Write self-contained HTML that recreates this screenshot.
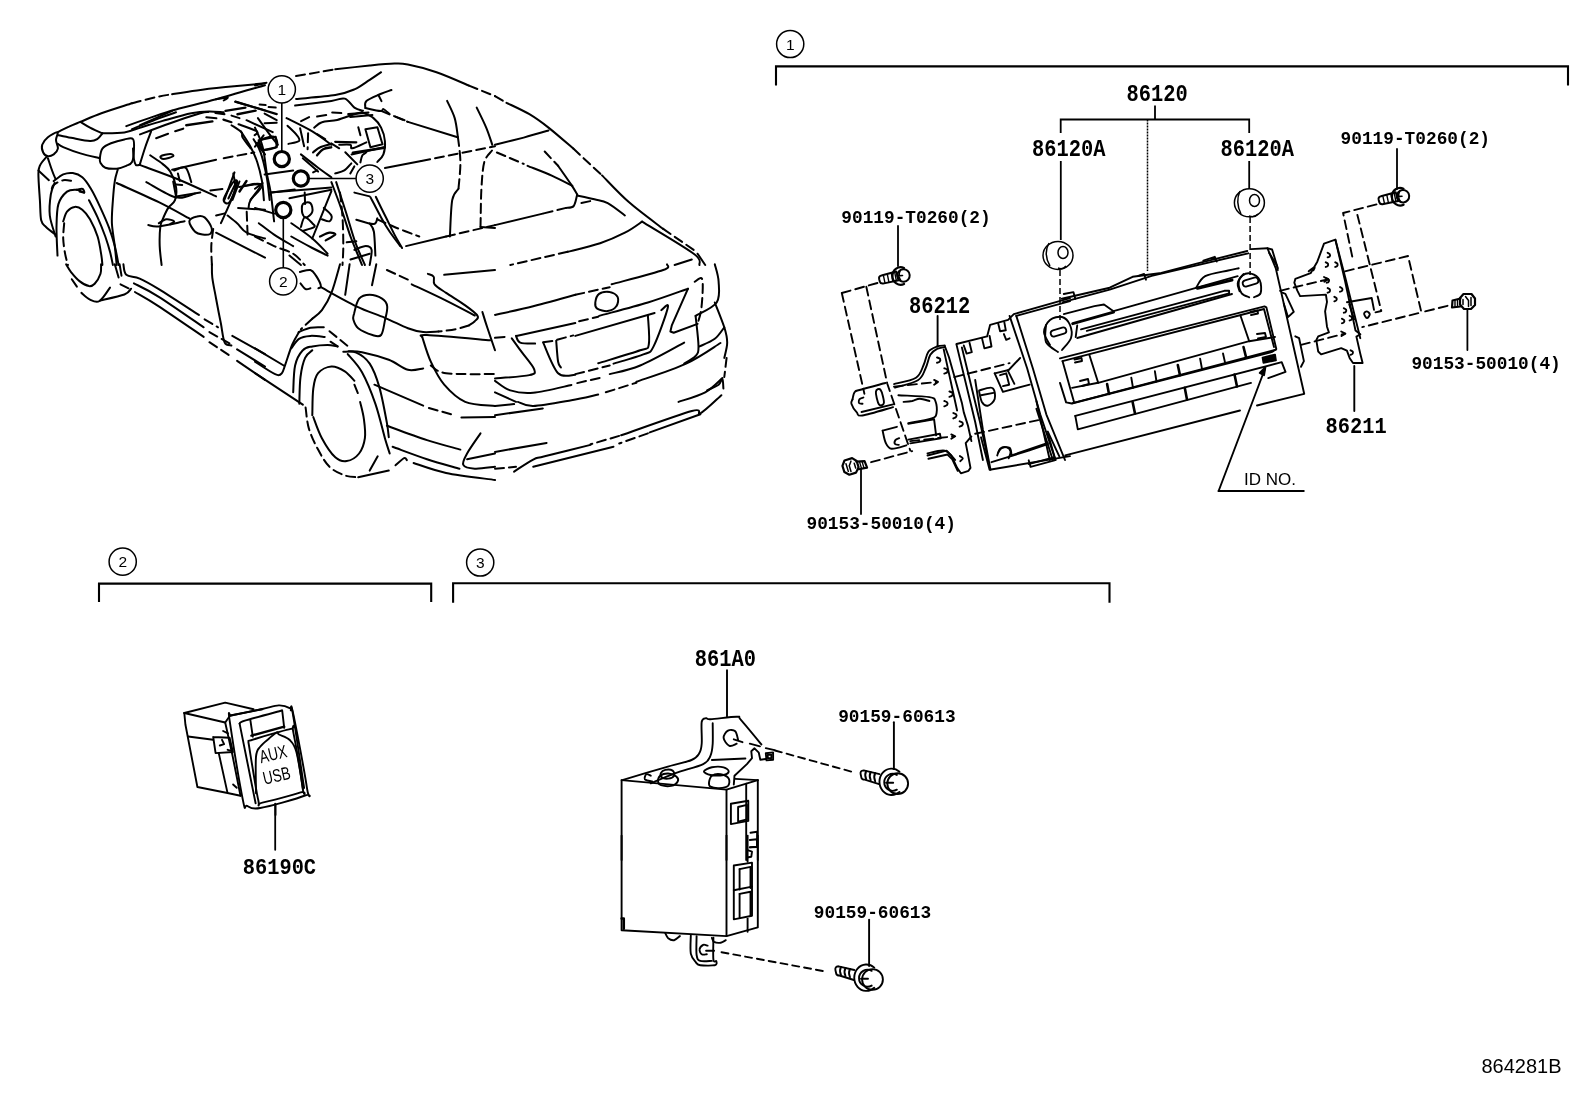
<!DOCTYPE html>
<html><head><meta charset="utf-8"><style>
html,body{margin:0;padding:0;background:#fff;width:1592px;height:1099px;overflow:hidden}
svg{display:block;will-change:transform}
.t{font-family:"Liberation Mono",monospace;font-weight:bold;fill:#000}
.s{font-family:"Liberation Sans",sans-serif;fill:#000}
</style></head><body>
<svg width="1592" height="1099" viewBox="0 0 1592 1099">
<rect width="1592" height="1099" fill="#fff"/>
<g id="frame" fill="none" stroke="#000" stroke-width="2.1">
<path d="M776,85.5 V66.4 H1568 V85.5"/>
<path d="M99,602 V583.6 H431.2 V602"/>
<path d="M453.1,602.7 V583.3 H1109.5 V602.7"/>
<g stroke-width="1.5">
<circle cx="790.2" cy="44" r="13.6"/>
<circle cx="122.7" cy="561.7" r="13.6"/>
<circle cx="480.2" cy="562.5" r="13.6"/>
</g>
</g>
<g class="s" font-size="15.5" text-anchor="middle">
<text x="790.2" y="49.5">1</text>
<text x="122.7" y="567.2">2</text>
<text x="480.2" y="568">3</text>
</g>
<g fill="none" stroke="#000">
<circle cx="281.8" cy="89.4" r="13.6" stroke-width="1.5"/>
<circle cx="369.7" cy="178.6" r="13.6" stroke-width="1.5"/>
<circle cx="283.2" cy="281.4" r="13.6" stroke-width="1.5"/>
<circle cx="281.8" cy="159.1" r="7.6" stroke-width="3.2"/>
<circle cx="300.9" cy="178.5" r="7.6" stroke-width="3.2"/>
<circle cx="283.3" cy="210" r="7.6" stroke-width="3.2"/>
<path d="M281.8,103 V151.5 M308.5,178.5 H356 M283.3,218 V267.8" stroke-width="1.6"/>
</g>
<g class="s" font-size="15.5" text-anchor="middle">
<text x="281.8" y="95">1</text>
<text x="369.7" y="184.1">3</text>
<text x="283.2" y="286.9">2</text>
</g>
<g fill="none" stroke="#000" stroke-width="1.5">
<path d="M1147.5,119.5 V271" stroke-dasharray="2,1"/>
<path d="M1155,105.5 V119.5 M1060.7,133 V119.5 H1249.2 V133 M1249.2,161 V189" stroke-width="1.8"/>
<path d="M1250.1,217 V275" stroke-dasharray="6,3"/>
<path d="M1060,270 V320" stroke-dasharray="6,3"/>
<path d="M1060.8,161 V240" stroke-width="1.8"/>
<ellipse cx="1058" cy="255.4" rx="15" ry="14"/>
<ellipse cx="1063" cy="252.5" rx="5" ry="6"/><path d="M1049,243 Q1043,254 1050,266 M1058,268 Q1063,270 1066,266"/>
<ellipse cx="1249.4" cy="202.8" rx="15" ry="14"/>
<ellipse cx="1254.5" cy="200.5" rx="5" ry="6"/><path d="M1240,191 Q1235,202 1241,214 M1249,216 Q1255,218 1258,214"/>
</g>
<g id="labels">
<g class="t" font-size="20.4">
<text transform="translate(1126.5,101) scale(1,1.2)">86120</text>
<text transform="translate(1032,155.5) scale(1,1.2)">86120A</text>
<text transform="translate(1220.6,156) scale(1,1.2)">86120A</text>
<text transform="translate(909,312.5) scale(1,1.2)">86212</text>
<text transform="translate(1325.5,433) scale(1,1.12)">86211</text>
<text transform="translate(242.7,874) scale(1,1.12)">86190C</text>
<text transform="translate(694.8,666.3) scale(1,1.16)">861A0</text>
</g>
<g class="t" font-size="17.8">
<text x="1340.6" y="144">90119-T0260(2)</text>
<text x="841.3" y="223">90119-T0260(2)</text>
<text x="806.5" y="528.5">90153-50010(4)</text>
<text x="1411.4" y="369">90153-50010(4)</text>
<text x="838.2" y="721.5">90159-60613</text>
<text x="813.8" y="917.5">90159-60613</text>
</g>
<text class="s" x="1244" y="484.5" font-size="17">ID NO.</text>
<text class="s" x="1481.5" y="1072.5" font-size="20">864281B</text>
</g>
<g id="car" fill="none" stroke="#000" stroke-width="2" stroke-linecap="round" stroke-linejoin="round">
<path d="M57.5,132.4 C59.4,131.4 65.1,128.4 69.0,126.7 C72.8,124.9 75.0,124.1 80.4,121.9 C85.8,119.7 92.8,116.4 101.4,113.3 C110.0,110.2 126.9,105.0 132.0,103.3"/>
<path d="M132.0,103.3 C135.8,102.4 148.3,99.0 154.9,97.4 C161.6,95.9 169.3,94.7 172.1,94.2" stroke-dasharray="9,5"/>
<path d="M172.1,94.2 C176.3,93.5 188.1,91.5 197.0,90.4 C205.9,89.2 214.3,88.3 225.6,87.1 C237.0,85.9 258.5,83.9 265.0,83.3"/>
<path d="M80.4,121.9 C82.0,122.8 86.3,125.7 90.0,127.6 C93.6,129.5 100.3,132.4 102.4,133.3"/>
<path d="M58.4,135.3 C60.8,135.7 67.5,137.2 72.8,138.1 C78.0,139.1 85.9,140.8 90.0,141.0 C94.0,141.2 95.2,140.4 97.2,139.1 C99.3,137.8 101.5,134.3 102.4,133.3"/>
<path d="M126.3,126.1 C130.1,124.7 140.9,120.8 149.2,118.1 C157.5,115.3 164.8,112.6 176.0,109.5 C187.1,106.3 201.3,103.4 216.1,99.3 C230.9,95.3 256.9,87.5 265.0,85.2"/>
<path d="M132.0,129.1 C136.5,127.4 151.4,121.2 158.8,118.4 C166.1,115.6 173.1,113.3 176.0,112.3"/>
<path d="M216.1,99.3 C218.0,99.0 226.3,97.2 227.6,97.4 C228.8,97.6 224.4,100.0 223.7,100.5"/>
<path d="M102.4,133.3 C106.1,133.2 117.8,133.4 124.4,132.4 C130.9,131.4 135.2,129.1 141.6,127.2 C147.9,125.3 154.3,123.3 162.6,120.9 C170.9,118.6 183.6,114.9 191.3,113.3 C198.9,111.7 203.0,111.5 208.5,111.4 C213.9,111.2 221.2,112.2 223.7,112.3"/>
<path d="M57.5,132.4 C56.1,131.9 50.5,135.1 47.9,137.2 C45.4,139.2 43.0,142.3 42.2,144.8 C41.4,147.4 42.2,150.5 43.2,152.5 C44.1,154.4 46.2,156.0 47.9,156.3 C49.7,156.6 52.0,155.6 53.7,154.4 C55.3,153.1 57.5,151.0 57.9,148.6 C58.3,146.2 56.0,142.7 56.0,140.0 C55.9,137.3 58.8,132.9 57.5,132.4 Z"/>
<path d="M57.9,143.9 C58.8,144.4 59.5,145.5 63.2,147.1 C67.0,148.7 74.4,151.6 80.4,153.4 C86.5,155.3 96.3,157.4 99.5,158.2"/>
<path d="M99.9,158.2 C100.2,155.8 100.5,151.1 102.4,148.6 C104.2,146.2 107.3,144.8 111.0,143.3 C114.7,141.8 120.7,140.2 124.4,139.5 C128.0,138.8 131.4,137.2 133.0,139.1 C134.6,140.9 134.1,146.7 133.9,150.5 C133.8,154.4 133.3,159.5 132.0,162.0 C130.7,164.6 128.8,164.7 126.3,165.8 C123.7,166.9 120.2,168.4 116.7,168.7 C113.2,169.0 108.0,168.7 105.3,167.7 C102.6,166.8 101.4,164.6 100.5,163.0 C99.6,161.4 99.6,160.6 99.9,158.2 Z"/>
<path d="M133.0,148.6 C133.1,150.4 133.4,156.4 133.9,159.1 C134.4,161.9 134.9,163.9 135.8,164.9 C136.8,165.8 139.0,164.9 139.7,164.9"/>
<path d="M139.7,164.9 C140.6,161.9 143.5,152.3 145.4,146.7 C147.3,141.2 150.2,134.0 151.1,131.4"/>
<path d="M139.7,164.9 C146.0,167.3 165.1,174.0 177.9,179.2 C190.6,184.5 209.7,193.5 216.1,196.4"/>
<path d="M116.7,183.0 C123.7,186.2 146.7,196.3 158.8,202.1 C170.9,208.0 184.2,215.7 189.3,218.4"/>
<path d="M117.7,169.7 C117.2,171.6 115.6,176.0 114.8,181.1 C114.0,186.2 113.4,193.2 112.9,200.2 C112.4,207.2 111.6,215.5 111.9,223.2 C112.3,230.8 114.0,239.1 114.8,246.1 C115.6,253.1 116.4,261.9 116.7,265.0"/>
<path d="M47.0,156.3 C45.9,157.7 41.7,162.0 40.3,164.9 C38.9,167.7 38.4,167.6 38.4,173.5 C38.3,179.4 39.4,192.4 39.9,200.2 C40.4,208.0 40.2,215.8 41.2,220.3 C42.3,224.8 43.6,224.6 46.0,227.0 C48.4,229.4 54.0,233.4 55.6,234.6"/>
<path d="M47.9,158.2 C48.6,160.1 50.5,166.2 51.8,169.7 C53.0,173.2 54.9,177.6 55.6,179.2"/>
<path d="M38.4,170.6 L48.9,180.2"/>
<path d="M53.7,181.1 C55.3,180.0 60.0,175.8 63.2,174.4 C66.4,173.1 69.6,172.6 72.8,173.1 C76.0,173.6 79.3,174.7 82.3,177.3 C85.4,179.9 87.9,183.7 90.9,188.8 C94.0,193.9 97.5,201.3 100.5,207.9 C103.5,214.4 106.7,221.6 109.1,227.9 C111.5,234.3 113.2,239.9 114.8,246.1 C116.4,252.3 118.0,261.9 118.6,265.0"/>
<path d="M51.8,188.8 C52.1,188.1 51.8,186.4 53.7,184.9 C55.6,183.5 60.0,180.8 63.2,180.2 C66.4,179.5 71.2,181.0 72.8,181.1" stroke-dasharray="9,5"/>
<path d="M55.6,236.5 C54.6,233.0 50.6,222.5 49.8,215.5 C49.0,208.5 50.0,199.9 50.8,194.5 C51.6,189.1 54.0,184.9 54.6,183.0"/>
<path d="M57.5,255.6 C57.3,250.9 56.4,235.6 56.5,227.0 C56.7,218.4 56.7,209.9 58.4,204.1 C60.2,198.2 64.0,194.0 67.0,191.6 C70.1,189.2 73.7,189.6 76.6,189.7 C79.5,189.9 83.0,192.1 84.2,192.6"/>
<path d="M76.6,189.7 C77.6,189.6 81.1,188.3 82.3,188.8 C83.6,189.2 84.7,192.1 84.2,192.6 C83.8,193.1 80.3,191.8 79.5,191.6"/>
<path d="M63.2,221.3 C63.9,219.7 65.1,214.1 67.0,211.7 C69.0,209.3 72.1,207.2 74.7,206.9 C77.2,206.6 79.8,207.7 82.3,209.8 C84.9,211.9 87.4,214.9 90.0,219.3 C92.5,223.8 95.7,230.5 97.6,236.5 C99.5,242.6 100.6,250.9 101.4,255.6 C102.2,260.4 102.2,263.5 102.4,265.0"/>
<path d="M64.2,223.2 C64.0,225.7 63.1,233.4 63.2,238.5 C63.4,243.5 64.3,249.3 65.1,253.7 C65.9,258.2 67.5,263.1 68.0,265.0" stroke-dasharray="9,5"/>
<path d="M89.0,200.2 C90.5,203.1 94.9,211.4 97.6,217.4 C100.3,223.5 103.2,230.8 105.3,236.5 C107.3,242.3 108.8,247.1 110.0,251.8 C111.3,256.6 112.4,262.8 112.9,265.0"/>
<path d="M150.2,155.3 C152.2,156.8 159.2,161.2 162.6,163.9 C165.9,166.6 168.0,167.7 170.2,171.6 C172.5,175.4 175.2,182.1 176.0,186.9 C176.8,191.6 176.3,196.7 175.0,200.2 C173.7,203.7 170.2,205.0 168.3,207.9 C166.4,210.7 164.9,214.2 163.5,217.4 C162.2,220.6 160.9,222.2 160.3,227.0 C159.7,231.8 159.5,239.8 159.7,246.1 C159.9,252.4 161.3,261.9 161.6,265.0"/>
<path d="M146.3,182.1 C151.3,184.6 167.8,195.5 176.0,197.4 C184.1,199.3 191.9,194.2 195.1,193.5"/>
<path d="M148.3,225.1 C150.0,225.3 152.7,227.0 158.8,226.4 C164.8,225.8 180.3,222.1 184.6,221.3"/>
<path d="M189.3,221.3 C189.7,218.7 194.4,217.1 197.0,216.5 C199.5,215.8 202.2,215.7 204.6,217.4 C207.0,219.2 210.4,224.3 211.3,227.0 C212.3,229.7 211.8,232.4 210.4,233.7 C208.9,234.9 205.3,234.9 202.7,234.6 C200.2,234.3 197.3,234.0 195.1,231.8 C192.8,229.5 189.0,223.8 189.3,221.3 Z"/>
<path d="M158.8,223.2 C160.0,222.5 163.9,219.7 166.4,219.3 C169.0,219.0 173.4,220.5 174.1,221.3 C174.7,222.0 170.9,223.6 170.2,224.1"/>
<path d="M172.1,169.7 L216.1,159.7"/>
<path d="M223.7,158.2 L254.3,152.5" stroke-dasharray="9,5"/>
<path d="M174.1,170.6 C176.0,170.1 182.7,165.8 185.5,167.7 C188.4,169.7 190.3,179.7 191.3,182.1"/>
<path d="M177.9,173.5 L179.8,181.1"/>
<path d="M160.7,156.3 C161.8,155.4 168.2,154.0 170.2,154.0 C172.3,154.0 174.2,155.4 173.1,156.3 C172.0,157.1 165.6,159.1 163.5,159.1 C161.5,159.1 159.6,157.1 160.7,156.3 Z"/>
<path d="M216.1,215.5 L227.6,212.7" stroke-dasharray="9,5"/>
<path d="M220.9,223.2 C222.3,220.0 227.1,209.8 229.5,204.1 C231.9,198.3 234.6,193.9 235.2,188.8 C235.8,183.7 233.6,176.0 233.3,173.5"/>
<path d="M223.7,199.3 C224.4,195.9 231.1,184.8 233.3,182.1 C235.5,179.4 237.8,179.7 237.1,183.0 C236.5,186.4 231.7,199.4 229.5,202.1 C227.2,204.9 223.1,202.6 223.7,199.3 Z"/>
<path d="M239.0,186.9 C242.8,186.5 260.0,182.7 262.0,184.9 C263.9,187.2 252.7,196.4 250.5,200.2 C248.3,204.1 248.9,206.6 248.6,207.9"/>
<path d="M227.6,215.5 C229.2,216.8 233.9,220.3 237.1,223.2 C240.3,226.0 242.0,230.2 246.7,232.7 C251.3,235.3 262.0,237.5 265.0,238.5"/>
<path d="M238.1,207.9 L265.0,209.8"/>
<path d="M216.1,232.7 L265.0,257.6"/>
<path d="M213.2,228.9 C212.9,231.8 211.5,240.1 211.3,246.1 C211.1,252.1 211.8,261.9 211.9,265.0" stroke-dasharray="9,5"/>
<path d="M240.9,131.4 C242.5,134.0 247.8,141.6 250.5,146.7 C253.2,151.8 255.3,156.3 257.2,162.0 C259.1,167.7 260.8,174.8 262.0,181.1 C263.1,187.5 263.6,197.0 263.9,200.2"/>
<path d="M235.2,101.8 L265.0,110.4"/>
<path d="M256.2,142.9 L265.0,154.4"/>
<path d="M246.7,211.7 L247.6,234.6" stroke-dasharray="9,5"/>
<path d="M255.0,85.6 L266.5,82.7"/>
<path d="M296.1,76.0 L335.3,69.3" stroke-dasharray="9,5"/>
<path d="M335.3,69.3 C341.0,68.7 359.8,66.5 369.7,65.5 C379.5,64.6 388.1,63.8 394.5,63.6 C400.9,63.4 400.9,63.1 407.9,64.6 C414.9,66.0 426.3,68.7 436.5,72.2 C446.7,75.7 463.6,83.3 469.0,85.6"/>
<path d="M469.0,85.6 L495.0,96.1" stroke-dasharray="9,5"/>
<path d="M296.1,99.0 C302.6,98.3 325.5,96.7 335.3,95.1 C345.0,93.5 348.6,91.9 354.4,89.4 C360.1,86.8 365.2,82.7 369.7,79.8 C374.1,77.0 379.2,73.5 381.1,72.2"/>
<path d="M295.1,105.6 C301.2,104.8 323.2,102.0 331.4,100.9 C339.7,99.7 341.0,97.5 344.8,98.6 C348.6,99.7 351.3,105.5 354.4,107.6 C357.4,109.6 361.5,110.3 363.0,110.8"/>
<path d="M314.2,127.6 C315.5,126.7 318.1,123.5 321.9,122.3 C325.7,121.0 331.8,121.3 337.2,120.0 C342.6,118.6 350.2,115.5 354.4,114.2 C358.5,113.0 360.7,112.6 362.0,112.3"/>
<path d="M362.0,112.3 C363.9,113.3 370.3,115.5 373.5,118.1 C376.7,120.6 379.2,123.8 381.1,127.6 C383.0,131.4 384.6,136.5 384.9,141.0 C385.3,145.5 384.7,150.9 383.4,154.4 C382.1,157.9 378.3,160.7 377.3,162.0"/>
<path d="M351.5,154.4 L384.9,147.1"/>
<path d="M381.1,110.8 L407.9,121.9" stroke-dasharray="9,5"/>
<path d="M407.9,121.9 L457.6,137.2"/>
<path d="M447.1,100.9 C448.3,103.7 452.9,112.0 454.7,118.1 C456.5,124.1 457.4,134.0 457.9,137.2"/>
<path d="M457.9,137.2 C458.4,141.3 460.3,153.4 460.4,162.0 C460.5,170.6 458.8,184.3 458.5,188.8" stroke-dasharray="9,5"/>
<path d="M458.5,188.8 C457.5,190.7 453.6,192.3 452.2,200.2 C450.8,208.2 450.3,230.5 449.9,236.5"/>
<path d="M476.7,107.6 C478.3,110.9 483.6,121.4 486.2,127.6 C488.8,133.8 491.3,141.9 492.3,144.8"/>
<path d="M384.9,168.1 L421.3,161.1"/>
<path d="M421.3,161.1 L495.0,146.3" stroke-dasharray="9,5"/>
<path d="M406.0,246.1 L446.1,236.5"/>
<path d="M446.1,236.5 L495.0,225.1" stroke-dasharray="9,5"/>
<path d="M492.0,150.5 C490.7,152.5 486.1,155.6 484.3,162.0 C482.6,168.4 482.1,177.9 481.4,188.8 C480.8,199.6 480.7,220.6 480.5,227.0" stroke-dasharray="9,5"/>
<path d="M480.5,227.0 L495.0,227.9"/>
<path d="M370.6,197.4 C372.4,200.7 377.9,211.7 381.1,217.4 C384.3,223.2 386.5,227.0 389.7,231.8 C392.9,236.5 398.5,243.7 400.2,246.1"/>
<path d="M375.8,196.8 C377.6,200.6 383.7,213.0 386.9,219.3 C390.0,225.6 392.0,229.9 394.5,234.6 C397.0,239.4 400.9,245.8 402.1,248.0"/>
<path d="M377.3,219.3 C380.2,220.6 387.5,224.1 394.5,227.0 C401.5,229.9 415.2,234.9 419.3,236.5" stroke-dasharray="9,5"/>
<path d="M356.3,219.7 C359.1,220.5 370.0,224.3 373.5,224.1 C377.0,223.9 376.7,219.3 377.3,218.4"/>
<path d="M369.7,223.5 C370.4,224.9 372.9,226.4 373.9,231.8 C374.8,237.1 375.1,251.7 375.4,255.6"/>
<path d="M331.4,182.1 C333.0,186.4 337.8,198.8 341.0,207.9 C344.2,217.0 347.7,228.6 350.5,236.5 C353.4,244.5 356.3,250.9 358.2,255.6 C360.1,260.4 361.4,263.5 362.0,265.0"/>
<path d="M336.2,182.1 C337.8,187.0 342.6,201.7 345.8,211.7 C349.0,221.7 352.1,233.4 355.3,242.3 C358.5,251.2 363.3,261.2 364.9,265.0"/>
<path d="M340.0,192.6 C340.5,196.7 342.0,208.5 342.5,217.4 C343.1,226.3 343.3,238.2 343.3,246.1 C343.3,254.0 342.6,261.9 342.5,265.0" stroke-dasharray="9,5"/>
<path d="M264.6,174.4 L293.2,170.6"/>
<path d="M270.3,192.6 L331.4,187.4"/>
<path d="M289.4,198.3 L331.4,189.7"/>
<path d="M255.0,127.6 C256.3,130.8 260.7,139.1 262.6,146.7 C264.6,154.4 265.5,165.8 266.8,173.5 C268.2,181.1 269.5,184.6 270.7,192.6 C271.9,200.6 273.5,216.5 274.1,221.3"/>
<path d="M257.9,118.1 C259.9,120.9 266.9,130.8 270.3,135.3 C273.6,139.7 276.7,143.2 277.9,144.8"/>
<path d="M259.8,141.0 C261.7,138.9 271.3,135.8 274.1,136.8 C276.9,137.7 278.3,144.6 276.4,146.7 C274.5,148.9 265.4,150.5 262.6,149.6 C259.9,148.6 257.9,143.1 259.8,141.0 Z"/>
<path d="M286.5,118.1 C290.8,120.3 304.8,127.0 312.3,131.4 C319.8,135.9 328.3,142.6 331.4,144.8"/>
<path d="M287.5,125.7 C289.1,127.3 295.1,132.7 297.0,135.3 C299.0,137.8 300.4,139.6 299.0,141.0 C297.5,142.4 290.2,143.4 288.4,143.9"/>
<path d="M300.9,154.4 C303.7,156.6 313.0,163.9 318.1,167.7 C323.2,171.6 329.2,175.7 331.4,177.3"/>
<path d="M302.8,158.2 L318.1,171.6"/>
<path d="M312.3,238.5 L331.4,191.1"/>
<path d="M302.8,204.1 C304.1,202.3 308.8,201.8 310.4,203.1 C312.0,204.4 313.0,209.3 312.3,211.7 C311.7,214.1 308.3,217.1 306.6,217.4 C304.9,217.7 303.0,215.8 302.4,213.6 C301.8,211.4 301.4,205.8 302.8,204.1 Z"/>
<path d="M304.7,192.6 L305.1,204.1"/>
<path d="M300.9,227.0 C301.5,225.4 302.8,218.1 304.7,217.4 C306.6,216.8 310.7,221.6 312.3,223.2 C313.9,224.8 315.8,225.7 314.2,227.0 C312.6,228.3 304.7,230.2 302.8,230.8"/>
<path d="M291.3,223.2 C294.8,225.7 306.3,233.4 312.3,238.5 C318.4,243.5 325.1,251.2 327.6,253.7"/>
<path d="M291.3,236.5 C294.8,238.5 306.3,244.8 312.3,248.0 C318.4,251.2 325.1,254.4 327.6,255.6"/>
<path d="M320.0,236.5 C321.6,235.9 327.0,233.0 329.5,232.7 C332.1,232.4 335.9,233.4 335.3,234.6 C334.6,235.9 327.3,239.4 325.7,240.4" stroke-width="2.2"/>
<path d="M323.8,207.9 C325.1,209.1 330.5,213.3 331.4,215.5 C332.4,217.7 331.1,220.6 329.5,221.3 C327.9,221.9 323.2,219.7 321.9,219.3"/>
<path d="M255.0,146.7 L263.6,135.3"/>
<path d="M255.0,188.8 L262.6,183.0"/>
<path d="M255.0,207.9 L274.1,213.6"/>
<path d="M258.8,223.2 C261.4,225.1 268.4,230.8 274.1,234.6 C279.8,238.5 290.0,244.2 293.2,246.1"/>
<path d="M255.0,236.5 C258.2,238.1 267.7,243.2 274.1,246.1 C280.5,249.0 288.1,250.6 293.2,253.7 C298.3,256.9 302.8,263.1 304.7,265.0" stroke-dasharray="9,5"/>
<path d="M289.4,255.6 L300.9,265.0"/>
<path d="M354.4,249.9 C356.3,249.3 363.0,246.1 365.8,246.1 C368.7,246.1 370.9,246.8 371.6,249.9 C372.2,253.1 370.0,262.5 369.7,265.0"/>
<path d="M346.7,242.3 L356.3,241.3"/>
<path d="M369.7,196.4 L354.4,192.6"/>
<path d="M350.5,259.5 L369.7,253.7"/>
<path d="M495.0,96.1 L506.5,102.8" stroke-dasharray="9,5"/>
<path d="M506.5,102.8 C510.3,104.7 522.4,110.1 529.4,114.2 C536.4,118.4 541.2,121.9 548.5,127.6 C555.8,133.3 569.2,145.1 573.3,148.6"/>
<path d="M573.3,148.6 L602.0,175.4" stroke-dasharray="9,5"/>
<path d="M602.0,175.4 C606.5,179.8 618.6,193.2 628.8,202.1 C639.0,211.1 657.4,224.4 663.2,228.9"/>
<path d="M663.2,228.9 L693.7,249.9" stroke-dasharray="9,5"/>
<path d="M495.0,144.8 C499.8,143.6 514.7,139.9 523.7,137.6 C532.6,135.2 544.4,131.7 548.5,130.5"/>
<path d="M496.9,152.5 L523.7,163.9" stroke-dasharray="9,5"/>
<path d="M527.5,165.8 C531.6,167.5 544.8,172.4 552.3,175.8 C559.8,179.1 569.0,184.2 572.4,185.9"/>
<path d="M544.7,151.5 L558.1,165.8" stroke-dasharray="9,5"/>
<path d="M558.1,165.8 C560.3,169.0 568.3,180.2 571.4,184.9 C574.6,189.7 576.2,192.9 577.2,194.5"/>
<path d="M577.2,194.5 C576.6,196.4 575.6,203.7 573.7,206.0 C571.9,208.2 567.4,207.6 566.1,207.9"/>
<path d="M566.1,207.9 L542.8,213.6" stroke-dasharray="9,5"/>
<path d="M542.8,213.6 L495.0,225.1"/>
<path d="M577.2,195.5 C580.0,196.1 589.3,198.0 594.4,199.3 C599.5,200.6 602.7,200.4 607.7,203.1 C612.8,205.8 622.1,213.4 624.9,215.5"/>
<path d="M581.4,203.1 L594.4,200.2" stroke-dasharray="9,5"/>
<path d="M642.1,221.6 C639.3,223.5 632.0,229.1 624.9,232.7 C617.9,236.3 609.7,240.0 600.1,243.2 C590.5,246.4 573.0,250.4 567.6,251.8"/>
<path d="M567.6,251.8 L510.3,265.0" stroke-dasharray="9,5"/>
<path d="M642.1,221.6 C650.7,227.0 684.2,246.5 693.7,253.7 C703.3,261.0 698.5,263.1 699.5,265.0"/>
<path d="M697.6,253.7 L705.2,265.0"/>
<path d="M674.6,265.0 L691.8,259.5"/>
<path d="M101.1,264.3 C101.0,265.9 101.5,270.6 100.5,273.8 C99.4,277.1 96.7,281.7 94.7,283.8 C92.8,285.8 91.6,286.5 89.0,286.1 C86.5,285.6 82.4,283.4 79.5,281.1 C76.5,278.8 73.5,275.1 71.2,272.3 C69.0,269.5 66.9,265.6 66.1,264.3"/>
<path d="M71.8,279.2 L77.0,286.8" stroke-dasharray="9,5"/>
<path d="M81.4,292.9 C82.8,294.0 86.9,298.3 90.0,299.6 C93.0,301.0 96.2,303.0 99.5,301.0 C102.9,299.0 108.3,289.8 110.0,287.6"/>
<path d="M99.9,300.6 C104.0,299.6 119.2,296.4 124.4,294.5 C129.6,292.5 129.9,289.7 131.1,288.7"/>
<path d="M120.5,284.3 L130.1,289.1" stroke-dasharray="9,5"/>
<path d="M123.4,264.3 C123.9,266.0 123.6,272.4 126.3,274.8 C129.0,277.2 134.2,276.2 139.7,278.6 C145.1,281.0 148.9,283.1 158.8,289.1 C168.6,295.2 192.2,310.6 198.9,314.9"/>
<path d="M204.6,319.3 L218.0,327.3" stroke-dasharray="9,5"/>
<path d="M232.3,335.9 L265.0,354.1"/>
<path d="M133.9,283.4 C138.1,285.6 147.1,289.4 158.8,296.8 C170.4,304.1 196.2,322.2 203.7,327.3"/>
<path d="M209.4,332.1 L231.4,344.5" stroke-dasharray="9,5"/>
<path d="M237.1,349.3 L265.0,366.5"/>
<path d="M134.9,292.0 C138.9,294.4 147.3,298.8 158.8,306.3 C170.2,313.8 196.2,331.8 203.7,336.9"/>
<path d="M209.4,342.2 L230.4,356.0" stroke-dasharray="9,5"/>
<path d="M237.1,360.8 L265.0,379.9"/>
<path d="M211.9,264.3 C212.0,266.5 211.6,271.9 212.3,277.6 C213.0,283.4 214.7,291.0 216.1,298.7 C217.5,306.3 219.4,316.2 220.9,323.5 C222.3,330.8 222.9,339.0 224.7,342.6 C226.4,346.3 230.3,345.0 231.4,345.5"/>
<path d="M114.8,264.3 L118.6,277.6"/>
<path d="M119.6,264.3 L121.5,275.7"/>
<path d="M299.9,271.9 C301.7,271.6 307.8,269.4 310.4,270.0 C313.1,270.6 314.0,272.7 315.8,275.4 C317.5,278.0 320.5,283.5 320.9,285.7 C321.4,287.8 318.9,287.9 318.4,288.3"/>
<path d="M300.5,283.4 C301.3,284.3 304.0,288.3 305.6,289.1 C307.3,289.9 309.6,288.5 310.4,288.3"/>
<path d="M427.9,273.8 C428.9,274.3 432.6,274.9 433.7,276.7 C434.8,278.4 432.6,281.6 434.6,284.3 C436.7,287.0 441.0,289.4 446.1,292.9 C451.2,296.4 459.9,301.5 465.2,305.4 C470.5,309.2 476.0,313.2 477.6,315.9 C479.2,318.5 476.2,319.6 474.8,321.2 C473.3,322.8 470.0,324.7 469.0,325.4"/>
<path d="M469.0,325.4 C466.8,326.1 460.7,328.2 455.6,329.2 C450.6,330.3 441.3,331.2 438.5,331.5" stroke-dasharray="9,5"/>
<path d="M438.5,331.5 C435.9,331.6 428.3,332.6 423.2,332.1 C418.1,331.6 414.2,330.7 407.9,328.3 C401.5,325.9 393.5,321.4 384.9,317.8 C376.3,314.1 366.9,311.4 356.3,306.3 C345.6,301.2 326.8,290.4 320.9,287.2"/>
<path d="M444.2,274.8 L495.0,270.0"/>
<path d="M354.0,314.0 C354.9,310.4 356.5,301.8 359.1,298.7 C361.8,295.5 365.8,294.8 369.7,294.8 C373.5,294.8 379.1,296.8 382.1,298.7 C385.0,300.6 386.8,302.6 387.2,306.3 C387.7,310.0 386.0,315.9 384.9,320.6 C383.9,325.4 383.2,332.6 381.1,335.0 C379.1,337.4 376.3,336.1 372.5,335.0 C368.7,333.9 361.4,330.8 358.2,328.3 C355.0,325.7 354.1,322.1 353.4,319.7 C352.7,317.3 353.0,317.5 354.0,314.0 Z"/>
<path d="M340.0,264.3 C338.6,269.0 334.5,285.3 331.4,292.9 C328.4,300.6 325.1,305.8 321.9,310.1 C318.7,314.4 313.9,317.3 312.3,318.7"/>
<path d="M312.3,318.7 L300.9,329.2" stroke-dasharray="9,5"/>
<path d="M299.0,332.1 C297.8,334.2 294.5,339.3 292.3,344.5 C290.0,349.8 287.3,358.9 285.6,363.6 C283.8,368.4 283.5,371.4 281.8,373.2 C280.0,374.9 279.5,376.1 275.1,374.1 C270.6,372.2 258.3,363.8 255.0,361.7"/>
<path d="M255.0,348.3 L283.7,365.5"/>
<path d="M255.0,373.2 L302.8,404.7"/>
<path d="M349.6,264.3 L345.2,294.8"/>
<path d="M376.3,264.3 L372.0,285.3"/>
<path d="M386.9,270.0 L407.9,279.6" stroke-dasharray="9,5"/>
<path d="M411.7,284.3 C417.4,287.0 435.6,295.4 446.1,300.6 C456.6,305.8 470.0,313.0 474.8,315.5"/>
<path d="M482.4,312.0 C483.2,314.6 485.1,321.0 487.2,327.3 C489.3,333.7 493.7,346.4 495.0,350.3"/>
<path d="M298.6,332.1 C300.5,331.4 306.2,328.5 310.4,327.7 C314.6,326.9 321.6,327.4 323.8,327.3"/>
<path d="M329.5,331.2 L350.5,348.3" stroke-dasharray="9,5"/>
<path d="M291.3,348.3 C292.6,346.8 295.8,340.9 299.0,338.8 C302.1,336.7 306.1,336.2 310.4,335.9 C314.7,335.6 322.4,336.7 324.7,336.9"/>
<path d="M293.2,392.3 C293.5,387.8 293.5,372.6 295.1,365.5 C296.7,358.5 299.9,353.4 302.8,350.3 C305.6,347.1 308.2,347.3 312.3,346.4 C316.5,345.5 323.4,344.9 327.6,344.9 C331.8,344.9 335.9,346.2 337.6,346.4"/>
<path d="M330.5,341.7 L337.6,346.4"/>
<path d="M299.3,403.8 C299.5,399.3 299.5,384.7 300.5,377.0 C301.4,369.4 303.1,362.4 305.1,357.9 C307.0,353.4 311.1,351.5 312.3,350.3"/>
<path d="M312.3,415.2 C312.5,410.8 312.3,395.5 313.3,388.5 C314.2,381.5 315.0,376.9 318.1,373.2 C321.1,369.5 327.0,366.8 331.4,366.5 C335.9,366.2 341.0,368.9 344.8,371.3 C348.6,373.7 352.8,379.2 354.4,380.8"/>
<path d="M354.4,384.7 L359.1,396.1" stroke-dasharray="9,5"/>
<path d="M360.1,401.9 C360.7,404.7 363.1,413.0 363.9,419.1 C364.7,425.1 365.7,432.4 364.9,438.2 C364.1,443.9 362.2,449.6 359.1,453.5 C356.1,457.3 350.7,460.5 346.7,461.1 C342.7,461.7 339.4,461.1 335.3,457.3 C331.1,453.5 325.5,444.9 321.9,438.2 C318.2,431.5 314.7,420.6 313.3,417.1"/>
<path d="M305.6,407.6 C306.2,411.1 306.8,421.6 308.9,428.6 C311.0,435.6 314.6,443.3 318.1,449.6 C321.5,456.0 325.1,462.5 329.5,466.8 C334.0,471.1 340.0,473.7 344.8,475.4 C349.6,477.2 356.0,477.0 358.2,477.3" stroke-dasharray="9,5"/>
<path d="M358.2,477.3 L388.8,470.6"/>
<path d="M377.7,456.3 L369.7,470.6"/>
<path d="M343.3,351.8 C345.5,351.9 351.9,350.6 356.3,352.6 C360.7,354.5 365.8,358.0 369.7,363.6 C373.5,369.3 376.3,376.7 379.2,386.6 C382.1,396.4 385.3,414.4 386.9,422.9 C388.4,431.3 388.4,434.8 388.8,437.2"/>
<path d="M347.7,354.1 C350.1,357.1 357.4,364.0 362.0,372.2 C366.6,380.5 371.6,392.8 375.4,403.8 C379.2,414.8 382.6,429.9 384.9,438.2 C387.3,446.4 388.9,450.9 389.7,453.5"/>
<path d="M348.6,351.2 C350.9,351.4 355.3,350.7 362.0,352.2 C368.7,353.6 381.1,356.9 388.8,359.8 C396.4,362.7 402.1,368.3 407.9,369.8 C413.6,371.2 420.6,368.6 423.2,368.4"/>
<path d="M374.4,384.7 L423.2,405.7"/>
<path d="M428.9,408.0 L455.6,415.6" stroke-dasharray="9,5"/>
<path d="M461.4,417.5 L495.0,417.1"/>
<path d="M386.9,425.7 C393.5,428.1 414.7,436.1 427.0,440.1 C439.2,444.1 454.9,448.0 460.4,449.6"/>
<path d="M392.6,446.8 C398.3,448.8 415.8,455.5 427.0,459.2 C438.1,462.8 454.1,467.1 459.5,468.7"/>
<path d="M395.5,465.3 C396.9,464.1 402.1,459.1 404.1,458.2 C406.0,457.4 406.4,459.8 406.9,460.1"/>
<path d="M413.6,463.0 C419.0,464.7 432.5,470.1 446.1,472.9 C459.7,475.8 486.9,478.8 495.0,480.0"/>
<path d="M480.5,433.4 C478.3,436.7 470.0,448.2 467.1,453.5 C464.2,458.7 462.0,462.4 463.3,464.9 C464.6,467.5 469.5,468.4 474.8,468.7 C480.0,469.1 491.6,467.1 495.0,466.8"/>
<path d="M467.1,459.2 L495.0,453.5"/>
<path d="M422.2,336.9 C423.0,336.6 415.7,334.4 427.0,335.0 C438.3,335.5 479.5,339.4 490.0,340.3"/>
<path d="M422.2,336.9 C423.6,341.0 427.1,353.8 430.8,361.7 C434.5,369.7 438.5,378.0 444.2,384.7 C449.9,391.3 456.7,398.3 465.2,401.9 C473.7,405.4 490.0,405.4 495.0,406.1"/>
<path d="M430.8,365.5 C433.4,366.8 435.4,371.8 446.1,373.2 C456.8,374.6 486.9,374.0 495.0,374.1" stroke-dasharray="9,5"/>
<path d="M495.0,314.9 C501.4,313.5 519.8,309.7 533.2,306.3 C546.6,303.0 568.3,296.8 575.3,294.8"/>
<path d="M575.3,294.8 L609.7,287.2" stroke-dasharray="9,5"/>
<path d="M611.6,284.3 C620.2,281.9 653.9,273.3 663.2,270.0 C672.4,266.7 666.3,265.2 667.0,264.3"/>
<path d="M595.3,302.5 C595.6,300.0 596.8,295.6 599.1,293.9 C601.5,292.1 606.6,291.4 609.7,292.0 C612.7,292.5 616.6,294.7 617.7,297.1 C618.8,299.5 618.0,304.0 616.3,306.3 C614.7,308.6 610.9,310.7 607.7,311.1 C604.6,311.5 599.3,310.0 597.2,308.6 C595.2,307.2 595.0,304.9 595.3,302.5 Z"/>
<path d="M516.4,335.9 L575.3,323.1"/>
<path d="M579.1,321.2 L598.2,316.8" stroke-dasharray="9,5"/>
<path d="M599.1,315.9 C607.3,313.6 633.1,307.0 647.9,302.5 C662.7,298.0 681.3,291.0 688.0,288.7"/>
<path d="M688.0,288.7 L671.8,325.4 L670.4,331.5 L673.7,332.7 L697.6,323.9"/>
<path d="M543.2,342.2 L552.3,341.1"/>
<path d="M557.1,339.7 L573.3,335.4" stroke-dasharray="9,5"/>
<path d="M575.3,335.9 L654.6,313.0"/>
<path d="M647.9,314.9 C648.0,319.8 650.1,338.6 648.8,344.5 C647.6,350.4 648.7,347.1 640.2,350.3 C631.8,353.4 605.2,361.1 598.2,363.3"/>
<path d="M556.2,340.7 C556.5,344.2 557.3,357.3 558.1,361.7 C558.9,366.2 560.5,366.5 560.9,367.5"/>
<path d="M543.2,342.6 C545.6,347.7 552.7,367.8 558.1,373.2 C563.4,378.5 572.4,374.5 575.3,374.7"/>
<path d="M575.3,374.1 L609.7,365.5" stroke-dasharray="9,5"/>
<path d="M661.3,310.1 C662.4,309.7 669.2,301.2 667.9,307.3 C666.7,313.3 657.6,338.6 653.6,346.4 C649.6,354.2 650.7,351.2 644.1,354.1 C637.4,356.9 618.6,362.0 613.5,363.6"/>
<path d="M495.0,337.8 L504.6,336.9"/>
<path d="M511.8,338.4 C513.5,340.7 518.0,347.0 521.8,352.2 C525.5,357.3 532.9,365.5 534.2,369.4 C535.4,373.2 535.9,373.6 529.4,375.1 C522.9,376.6 500.7,378.0 495.0,378.5"/>
<path d="M516.0,335.9 C516.7,337.0 517.0,341.3 520.2,342.6 C523.4,343.9 532.6,343.4 535.1,343.6"/>
<path d="M495.0,380.8 C497.5,382.4 503.9,388.4 510.3,390.4 C516.7,392.4 523.0,393.6 533.2,392.7 C543.4,391.8 565.1,386.3 571.4,385.0"/>
<path d="M577.2,383.1 L602.0,377.4" stroke-dasharray="9,5"/>
<path d="M609.7,374.1 C614.8,372.7 627.8,370.8 640.2,365.5 C652.7,360.3 676.9,346.4 684.2,342.6"/>
<path d="M495.0,392.3 L516.0,401.9"/>
<path d="M517.9,401.9 C520.5,402.6 524.3,406.3 533.2,406.1 C542.1,405.8 560.6,402.2 571.4,400.3 C582.3,398.4 593.7,395.5 598.2,394.6"/>
<path d="M605.8,392.3 L636.4,382.7" stroke-dasharray="9,5"/>
<path d="M636.4,381.8 C644.7,378.8 672.1,370.1 686.1,363.6 C700.1,357.2 714.8,346.4 720.5,343.0"/>
<path d="M495.0,406.1 L514.1,404.1"/>
<path d="M495.0,415.2 L542.8,408.5"/>
<path d="M694.7,281.8 C696.0,281.5 701.2,275.2 702.3,279.6 C703.5,283.9 702.2,300.9 701.4,308.2 C700.6,315.5 698.2,321.0 697.6,323.5" stroke-dasharray="9,5"/>
<path d="M695.6,315.9 C696.1,321.0 698.5,339.7 698.5,346.4 C698.5,353.1 698.0,353.1 695.6,356.0 C693.3,358.9 686.1,362.4 684.2,363.6"/>
<path d="M714.8,264.3 C715.4,267.1 718.3,275.1 718.6,281.5 C718.9,287.8 720.5,296.8 716.7,302.5 C712.8,308.2 699.2,313.6 695.6,315.9"/>
<path d="M714.8,302.5 C716.4,306.6 722.2,320.6 724.3,327.3 C726.4,334.0 727.2,337.5 727.2,342.6 C727.2,347.7 724.8,355.4 724.3,357.9"/>
<path d="M699.5,346.4 C702.0,345.2 710.6,342.0 714.8,338.8 C718.9,335.6 722.7,329.2 724.3,327.3"/>
<path d="M726.6,357.9 L724.3,377.0" stroke-dasharray="9,5"/>
<path d="M707.1,390.4 C709.0,389.4 716.0,386.6 718.6,384.7 C721.1,382.7 721.6,378.3 722.4,378.9 C723.2,379.6 723.2,386.9 723.4,388.5"/>
<path d="M678.5,401.9 C682.9,400.3 697.9,396.3 705.2,392.3 C712.5,388.3 719.5,380.4 722.4,378.0"/>
<path d="M721.4,395.2 C717.9,398.2 705.4,410.7 700.4,413.3 C695.5,416.0 705.0,407.4 691.8,411.0 C678.6,414.7 632.9,431.3 621.1,435.3"/>
<path d="M619.2,435.9 L590.5,444.3" stroke-dasharray="9,5"/>
<path d="M590.5,444.9 C582.9,446.8 554.2,453.9 544.7,456.3 C535.1,458.8 538.3,457.0 533.2,459.6 C528.1,462.1 517.3,469.6 514.1,471.6"/>
<path d="M649.8,432.4 L700.4,414.3"/>
<path d="M647.9,433.4 L619.2,443.5" stroke-dasharray="9,5"/>
<path d="M613.5,446.8 L533.2,466.8"/>
<path d="M495.0,451.9 L546.6,442.9"/>
<path d="M495.0,468.7 L516.0,466.8" stroke-dasharray="9,5"/>
<path d="M140.0,125.2 L172.2,110.9"/>
<path d="M140.0,134.4 C145.0,132.5 160.1,126.7 170.2,123.2 C180.2,119.6 193.9,115.2 200.3,113.3 C206.7,111.4 207.0,112.1 208.3,111.9"/>
<path d="M156.1,138.2 L168.1,133.7"/>
<path d="M175.2,131.2 L183.2,128.7" stroke-width="2.2"/>
<path d="M186.2,125.2 L212.4,121.4" stroke-width="2.4"/>
<path d="M206.3,117.3 L216.4,118.3"/>
<path d="M215.4,112.9 L224.4,114.1" stroke-width="2.2"/>
<path d="M225.4,110.9 L245.5,107.6" stroke-width="2.2"/>
<path d="M237.5,114.3 L255.6,110.6" stroke-width="2.4"/>
<path d="M231.5,115.6 L239.5,118.1"/>
<path d="M223.4,119.6 L231.5,122.2" stroke-width="2.2"/>
<path d="M246.5,120.2 L272.7,132.2"/>
<path d="M235.5,101.6 L276.7,114.1" stroke-width="2.2"/>
<path d="M259.6,104.6 L265.6,105.1"/>
<path d="M268.6,107.1 L275.7,107.6"/>
<path d="M264.6,113.6 L276.7,120.2"/>
<path d="M264.6,123.2 L276.7,122.7"/>
<path d="M231.5,125.2 C233.1,126.3 239.7,130.2 241.5,132.2 C243.4,134.2 241.0,134.6 242.5,137.2 C244.0,139.9 249.2,146.4 250.6,148.3"/>
<path d="M238.5,124.2 C241.5,125.3 253.9,129.4 256.6,131.2 C259.3,133.0 254.9,134.6 254.6,135.2"/>
<path d="M258.6,140.3 L275.7,136.7 L276.7,147.3 L262.6,150.3 L258.6,140.3"/>
<path d="M253.6,139.2 C254.7,141.4 258.4,146.1 260.6,152.3 C262.8,158.5 265.1,168.5 266.6,176.4 C268.1,184.4 269.1,196.0 269.6,199.9"/>
<path d="M224.4,199.9 L234.5,172.4"/>
<path d="M228.4,198.5 L236.5,181.5"/>
<path d="M232.5,199.9 L239.5,181.5"/>
<path d="M239.5,191.5 L246.5,181.0" stroke-width="2.4"/>
<path d="M245.5,185.5 C248.0,185.3 259.8,182.1 260.6,184.5 C261.4,186.9 252.2,197.4 250.6,199.9"/>
<path d="M173.2,181.5 L176.2,197.5"/>
<path d="M176.2,184.5 L182.2,185.0"/>
<path d="M176.2,196.5 L200.3,192.5"/>
<path d="M210.4,190.5 L222.4,189.0"/>
<path d="M271.7,192.5 L294.8,189.5"/>
<path d="M365.4,108.1 C365.5,106.9 363.9,103.4 366.4,101.1 C368.9,98.7 376.3,95.9 380.5,94.0 C384.6,92.2 389.7,90.7 391.5,90.0"/>
<path d="M378.4,95.0 L381.5,101.1"/>
<path d="M365.4,108.1 C367.9,108.6 377.4,110.9 380.5,111.1 C383.5,111.3 382.0,108.6 383.5,109.1 C385.0,109.6 388.5,113.3 389.5,114.1"/>
<path d="M395.5,116.6 L404.6,120.2"/>
<path d="M348.3,114.1 L368.4,112.6" stroke-width="2.2"/>
<path d="M350.3,117.1 L372.4,115.1"/>
<path d="M365.4,129.2 L377.4,127.2 L382.5,144.3 L370.4,147.3 L365.4,129.2"/>
<path d="M358.3,127.2 L360.4,135.2"/>
<path d="M352.8,152.8 L384.5,147.8" stroke-width="2.4"/>
<path d="M335.2,141.8 L356.3,142.3" stroke-width="2.2"/>
<path d="M339.2,144.8 C341.1,144.8 348.1,144.2 350.3,144.8 C352.5,145.4 349.6,148.7 352.3,148.3 C355.0,147.9 364.0,143.3 366.4,142.3"/>
<path d="M313.1,152.3 C314.3,151.5 317.3,148.6 320.2,147.3 C323.0,145.9 328.5,144.8 330.2,144.3" stroke-width="2.2"/>
<path d="M317.1,155.3 C318.1,154.3 320.8,150.6 323.2,149.3 C325.5,148.0 329.9,147.6 331.2,147.3" stroke-width="2.4"/>
<path d="M360.4,162.4 C360.7,161.2 361.4,157.0 362.4,155.3 C363.4,153.7 365.7,152.8 366.4,152.3"/>
<path d="M301.1,121.2 L309.1,117.1"/>
<path d="M317.1,116.6 L326.2,115.1"/>
<path d="M332.2,112.6 L341.3,113.1"/>
<path d="M317.1,134.2 L325.2,139.2"/>
<path d="M331.2,143.3 L339.2,148.3"/>
<path d="M345.3,152.3 L357.3,164.4"/>
<path d="M335.2,173.4 C336.7,172.9 341.6,172.1 344.3,170.4 C347.0,168.7 350.1,164.5 351.3,163.4"/>
<path d="M350.3,173.4 L354.3,166.4"/>
<path d="M308.1,133.2 L307.6,149.3" stroke-dasharray="9,5"/>
<path d="M300.1,128.2 L304.1,146.3"/>
<path d="M313.1,172.4 L317.1,170.4"/>
</g>
<g id="radio" fill="none" stroke="#000" stroke-width="1.9" stroke-linecap="round" stroke-linejoin="round">
<path d="M841.8,293.0 L877.8,282.9" stroke-dasharray="9,5"/>
<path d="M841.8,293.0 L864.4,393.7" stroke-dasharray="9,5"/>
<path d="M866.3,286.7 L887.3,383.8 L910.3,450.6" stroke-dasharray="9,5"/>
<path d="M852.5,399.4 C852.9,398.2 853.3,393.4 854.8,391.8 C856.3,390.1 856.4,391.0 861.5,389.5 C866.6,388.0 881.4,384.1 885.4,383.0"/>
<path d="M852.5,399.4 C852.4,400.2 850.7,401.7 851.4,403.8 C852.1,406.0 854.9,410.5 856.8,412.4 C858.6,414.4 856.4,416.4 862.5,415.5 C868.5,414.6 888.0,408.5 893.1,407.1"/>
<path d="M861.5,412.0 L893.1,404.4"/>
<path d="M875.9,391.8 C876.1,389.4 879.3,388.0 880.6,389.9 C882.0,391.7 884.2,400.5 883.9,402.9 C883.6,405.3 880.3,406.3 878.9,404.4 C877.6,402.6 875.6,394.2 875.9,391.8 Z"/>
<path d="M863.4,397.5 C862.8,397.8 860.4,398.2 859.6,399.1 C858.9,399.9 858.6,402.1 859.0,402.9 C859.5,403.7 861.9,403.7 862.5,403.8"/>
<path d="M895.0,387.6 C898.8,386.4 912.8,383.5 917.9,380.3 C923.0,377.1 923.5,372.7 925.5,368.5 C927.6,364.2 928.4,358.0 930.3,354.7 C932.2,351.5 934.6,350.3 937.0,349.0 C939.4,347.7 943.4,347.4 944.7,347.1"/>
<path d="M894.0,384.1 C897.7,383.1 911.1,380.8 916.0,377.7 C920.9,374.5 921.6,369.4 923.6,365.0 C925.7,360.7 926.2,354.8 928.4,351.7 C930.6,348.6 934.3,347.5 937.0,346.5 C939.7,345.5 943.4,345.7 944.7,345.5"/>
<path d="M944.7,345.9 L948.9,357.0 L961.9,402.9 L963.8,412.4 L968.0,425.8 L971.4,441.1"/>
<path d="M943.7,349.4 L957.1,410.5"/>
<path d="M937.0,357.4 C937.5,357.7 939.6,358.2 940.1,358.9 C940.5,359.6 940.2,361.0 939.7,361.6 C939.2,362.2 937.5,362.6 937.0,362.7"/>
<path d="M944.3,368.3 C944.8,368.5 946.9,369.1 947.3,369.8 C947.8,370.5 947.5,371.9 947.0,372.5 C946.4,373.1 944.7,373.4 944.3,373.6"/>
<path d="M949.4,391.4 C949.9,391.7 952.0,392.2 952.5,392.9 C952.9,393.6 952.6,395.0 952.1,395.6 C951.6,396.3 949.9,396.6 949.4,396.8"/>
<path d="M944.3,401.0 C944.8,401.2 946.9,401.8 947.3,402.5 C947.8,403.2 947.5,404.5 947.0,405.2 C946.4,405.8 944.7,406.1 944.3,406.3"/>
<path d="M953.3,413.0 C953.8,413.3 955.9,413.8 956.3,414.5 C956.8,415.2 956.4,416.6 955.9,417.2 C955.4,417.8 953.7,418.2 953.3,418.4"/>
<path d="M959.6,421.2 C960.1,421.5 962.2,422.0 962.6,422.7 C963.1,423.5 962.7,424.8 962.2,425.4 C961.7,426.1 960.0,426.4 959.6,426.6"/>
<path d="M882.6,430.6 L896.9,426.8"/>
<path d="M882.6,430.6 C883.1,432.7 884.3,440.0 885.8,443.0 C887.3,446.0 888.1,448.4 891.5,448.7 C895.0,449.1 904.0,445.9 906.4,445.3"/>
<path d="M899.2,438.2 C898.5,438.5 896.1,439.2 895.4,440.1 C894.7,441.1 894.4,443.2 895.0,444.0 C895.5,444.8 898.2,444.8 898.8,444.9"/>
<path d="M908.3,439.6 L939.9,433.8 L940.8,438.2 L910.3,443.4"/>
<path d="M898.4,395.2 C903.6,395.6 923.2,396.1 929.4,397.1 C935.5,398.2 934.3,398.7 935.5,401.3 C936.7,404.0 937.3,409.9 936.6,412.8 C936.0,415.7 936.4,416.8 931.7,418.5 C926.9,420.3 912.2,422.4 908.3,423.1"/>
<path d="M903.6,401.9 C905.0,401.8 909.5,401.5 912.2,401.0 C914.9,400.4 916.9,398.7 919.8,398.7 C922.7,398.7 927.8,400.6 929.4,401.0"/>
<path d="M908.3,423.9 L934.1,419.3 L936.1,435.4"/>
<path d="M927.5,453.5 C930.3,453.0 940.0,449.6 944.7,450.6 C949.3,451.7 953.4,458.5 955.2,460.0"/>
<path d="M894.0,386.6 L937.0,381.9" stroke-dasharray="9,5"/>
<path d="M934.1,379.9 L938.0,381.9 L934.1,384.7"/>
<path d="M954.2,377.1 L1009.6,363.1" stroke-dasharray="9,5"/>
<path d="M910.3,441.1 L954.2,436.3" stroke-dasharray="9,5"/>
<path d="M951.3,434.4 L955.2,436.3 L951.3,438.8"/>
<path d="M975.2,433.8 L1038.3,420.1" stroke-dasharray="9,5"/>
<path d="M956.5,344.0 L987.1,336.4 L990.1,324.9 L1008.1,319.9 L1013.8,314.2 L1070.0,298.2"/>
<path d="M1016.3,315.9 L1070.0,301.2"/>
<path d="M963.8,345.5 L966.6,353.6 L971.8,352.2 L969.5,342.7"/>
<path d="M981.9,337.9 L984.4,348.4 L991.5,346.5 L989.6,336.0"/>
<path d="M998.2,323.6 L1000.1,331.2 L1005.8,330.3 L1004.3,322.2"/>
<path d="M1003.9,334.1 L1006.2,339.8 L1009.6,338.3"/>
<path d="M956.5,344.6 L975.2,422.0 L982.9,460.0"/>
<path d="M961.9,347.5 L980.0,422.0 L988.2,460.0"/>
<path d="M994.7,373.3 L1008.7,370.0 L1020.1,358.0"/>
<path d="M994.7,373.3 L1002.9,391.8 L1029.7,384.7"/>
<path d="M1000.1,375.2 L1006.2,373.3 L1009.2,384.7 L1002.9,386.1"/>
<path d="M1007.7,370.4 L1014.4,383.8"/>
<path d="M979.1,390.5 C981.3,390.0 989.8,386.5 992.4,388.0 C995.0,389.4 995.5,396.1 994.7,399.1 C993.9,402.0 989.8,405.3 987.7,405.7 C985.5,406.2 983.4,404.3 981.9,401.9 C980.5,399.5 979.5,393.2 979.1,391.4"/>
<path d="M981.0,395.2 L993.4,392.9"/>
<path d="M1009.6,315.9 L1027.2,368.5 L1040.2,414.3 L1055.5,460.0"/>
<path d="M1016.3,315.9 L1032.9,368.5 L1046.3,414.3 L1065.0,460.0"/>
<path d="M1036.4,401.0 L1049.8,460.0"/>
<path d="M998.2,452.6 C998.8,451.8 1000.1,448.6 1002.0,447.8 C1003.9,447.0 1008.0,446.7 1009.6,447.8 C1011.2,448.9 1011.2,453.4 1011.5,454.5"/>
<path d="M1011.5,455.4 L1047.8,443.0"/>
<path d="M1047.8,433.5 L1055.5,460.0"/>
<path d="M937.6,315.9 L937.6,346.5"/>
<path d="M1061.9,298.8 L1109.7,287.7 L1132.6,276.8 L1161.3,273.0 L1197.6,263.4 L1247.3,251.0"/>
<path d="M1062.9,302.2 L1109.7,289.6 L1151.7,275.9 L1248.2,253.3"/>
<path d="M1063.8,294.0 L1073.4,292.1 L1075.3,298.8"/>
<path d="M1138.3,275.9 L1144.1,274.0 L1146.0,279.7"/>
<path d="M1203.3,260.6 L1214.8,256.8 L1216.7,261.5"/>
<path d="M1251.1,249.1 L1267.3,248.2 L1272.1,249.5 L1277.8,268.2"/>
<path d="M1269.2,252.9 L1276.9,265.4 L1277.8,270.1"/>
<path d="M1081.0,329.4 L1224.3,290.8 L1229.1,290.8 L1229.1,293.4 L1086.8,330.9"/>
<path d="M1063.8,314.1 L1094.4,306.1 L1104.0,304.5 L1113.5,311.2 L1237.7,276.2"/>
<path d="M1075.7,337.0 L1077.2,325.5"/>
<path d="M1077.2,338.0 L1232.0,294.0"/>
<path d="M1196.1,287.7 C1197.6,285.8 1199.9,279.1 1205.2,276.2 C1210.6,273.4 1222.6,271.8 1228.2,270.5 C1233.7,269.2 1236.9,268.6 1238.7,268.2"/>
<path d="M1197.6,288.3 L1232.0,280.1" stroke-width="3"/>
<path d="M1239.6,291.2 C1239.3,289.9 1237.2,286.1 1237.7,283.5 C1238.2,280.9 1240.3,277.1 1242.5,275.5 C1244.7,273.8 1248.2,272.8 1251.1,273.6 C1254.0,274.3 1258.1,276.8 1259.7,280.1 C1261.3,283.3 1261.6,290.2 1260.6,293.1 C1259.7,295.9 1255.1,296.6 1254.0,297.3"/>
<path d="M1243.5,274.0 C1242.7,275.2 1239.0,278.4 1238.7,281.6 C1238.4,284.8 1239.8,290.4 1241.5,293.1 C1243.3,295.7 1247.9,296.6 1249.2,297.3"/>
<path d="M1060.0,358.4 L1264.5,306.4 L1266.4,307.4 L1276.3,348.9 L1272.1,351.9 L1071.8,403.5 L1066.1,402.4 L1060.0,382.9"/>
<path d="M1062.5,361.1 L1264.0,309.0 L1274.0,347.0"/>
<path d="M1062.5,361.1 L1074.0,402.0"/>
<path d="M1089.3,354.8 L1098.2,382.8 L1249.2,341.2 L1275.0,337.0"/>
<path d="M1240.6,316.0 L1249.2,341.2"/>
<path d="M1072.1,387.9 L1098.2,382.8"/>
<path d="M1072.7,403.2 L1276.0,349.7"/>
<path d="M1075.3,415.9 L1281.7,362.2 L1285.5,371.8 L1268.3,378.1"/>
<path d="M1075.3,415.9 L1077.8,429.3 L1251.0,382.9"/>
<path d="M1107.1,384.0 L1109.0,394.0" stroke-width="2.6"/>
<path d="M1131.3,377.7 L1133.0,387.9"/>
<path d="M1154.9,371.3 L1156.5,381.5"/>
<path d="M1177.8,365.0 L1180.0,375.2" stroke-width="2.6"/>
<path d="M1200.1,358.6 L1202.0,368.8"/>
<path d="M1223.0,353.5 L1225.0,362.4"/>
<path d="M1243.5,347.0 L1246.0,357.0" stroke-width="2.6"/>
<path d="M1132.6,402.0 L1135.0,413.4" stroke-width="2.6"/>
<path d="M1184.8,387.9 L1187.0,399.4" stroke-width="2.6"/>
<path d="M1234.5,374.5 L1237.0,386.6" stroke-width="2.6"/>
<path d="M1074.5,359.5 L1081.5,358.0 L1082.0,361.0 L1075.0,362.5"/>
<path d="M1080.0,381.0 L1088.0,379.0 L1089.0,384.0 L1082.0,386.0"/>
<path d="M1250.5,312.0 L1257.5,310.5 L1258.0,313.5 L1251.0,315.0"/>
<path d="M1257.0,334.0 L1265.0,333.0 L1266.0,337.0 L1258.0,338.5"/>
<path d="M1259.7,372.9 L1265.4,367.2 L1264.1,375.2 Z" fill="#000"/>
<path d="M1262.6,357.7 L1275.0,354.6 L1275.9,360.3 L1263.5,362.8 Z" fill="#000"/>
<path d="M1065.2,455.3 L1240.0,410.5"/>
<path d="M1257.0,405.5 L1304.2,393.8 L1275.8,268.4 L1267.5,248.3"/>
<path d="M1218.6,491.0 L1265.1,368.5"/>
<path d="M1218.6,491.0 L1303.8,491.0"/>
<path d="M1050.0,345.0 C1049.0,342.8 1044.0,336.2 1044.0,332.0 C1044.0,327.8 1047.0,322.5 1050.0,320.0 C1053.0,317.5 1058.7,316.2 1062.0,317.0 C1065.3,317.8 1068.5,321.5 1070.0,325.0 C1071.5,328.5 1072.3,333.8 1071.0,338.0 C1069.7,342.2 1063.5,348.0 1062.0,350.0"/>
<path d="M1046.0,325.0 C1046.0,327.8 1044.0,337.5 1046.0,342.0 C1048.0,346.5 1056.0,350.3 1058.0,352.0"/>
<path d="M1376.5,204.4 L1343.1,213.0 L1352.6,258.3 L1354.9,257.5" stroke-dasharray="9,5"/>
<path d="M1357.4,214.9 L1381.3,311.0 L1375.5,312.4" stroke-dasharray="9,5"/>
<path d="M1345.0,271.3 L1408.0,256.0 L1421.4,312.4 L1362.2,327.1" stroke-dasharray="9,5"/>
<path d="M1425.2,311.4 L1452.0,304.7" stroke-dasharray="9,5"/>
<path d="M1335.4,239.7 L1324.0,243.6 L1317.3,261.7 L1310.6,273.2 L1295.3,278.9 L1294.3,282.7 L1297.2,290.4 L1300.1,296.1 L1325.9,294.6 L1327.0,301.9 L1325.1,311.4 L1327.0,326.7 L1328.9,332.4 L1318.2,336.3 L1316.3,340.1 L1318.2,351.5 L1321.1,354.4 L1341.2,348.1 L1346.9,350.6 L1349.7,358.2 L1353.0,363.0 L1362.6,363.0 L1360.3,353.8 L1356.4,336.6 L1360.3,334.3 L1355.5,330.5 L1345.0,280.8 L1335.4,239.7"/>
<path d="M1335.4,239.7 L1345.9,279.9 L1360.3,338.2"/>
<path d="M1308.7,271.3 C1309.6,270.6 1313.6,267.6 1314.4,267.5 C1315.2,267.3 1313.6,269.8 1313.4,270.3"/>
<path d="M1280.0,290.8 L1327.8,279.3" stroke-dasharray="9,5"/>
<path d="M1324.0,277.0 L1328.2,279.3 L1324.3,281.8"/>
<path d="M1301.0,344.9 L1345.0,333.6" stroke-dasharray="9,5"/>
<path d="M1341.2,331.5 L1345.4,333.6 L1341.5,335.9"/>
<path d="M1282.3,292.7 L1285.4,293.8 L1293.8,311.8 L1288.0,317.1 L1283.8,303.8"/>
<path d="M1295.3,336.3 L1299.1,338.2 L1303.9,361.1 L1301.0,366.8"/>
<path d="M1346.9,302.2 L1371.7,298.0 L1374.0,309.9"/>
<path d="M1349.2,304.1 L1354.1,319.4"/>
<path d="M1364.1,313.7 C1364.1,312.6 1366.0,311.3 1366.9,311.4 C1367.9,311.5 1369.8,313.2 1369.8,314.3 C1369.8,315.4 1367.9,318.2 1366.9,318.1 C1366.0,318.0 1364.1,314.8 1364.1,313.7 Z"/>
<path d="M1327.6,252.7 C1328.0,253.0 1329.6,253.6 1329.9,254.3 C1330.2,254.9 1329.9,256.1 1329.5,256.6 C1329.1,257.1 1327.9,257.2 1327.6,257.3"/>
<path d="M1335.2,262.3 C1335.6,262.6 1337.2,263.2 1337.5,263.8 C1337.8,264.5 1337.5,265.6 1337.1,266.1 C1336.8,266.6 1335.5,266.8 1335.2,266.9"/>
<path d="M1326.6,278.2 C1327.0,278.4 1328.6,279.1 1328.9,279.7 C1329.2,280.3 1328.9,281.5 1328.5,282.0 C1328.2,282.5 1326.9,282.6 1326.6,282.7"/>
<path d="M1340.0,287.1 C1340.4,287.4 1342.0,288.0 1342.3,288.7 C1342.6,289.3 1342.3,290.5 1341.9,291.0 C1341.5,291.5 1340.3,291.6 1340.0,291.7"/>
<path d="M1334.3,296.7 C1334.7,297.0 1336.2,297.6 1336.6,298.2 C1336.9,298.9 1336.6,300.0 1336.2,300.5 C1335.8,301.0 1334.6,301.2 1334.3,301.3"/>
<path d="M1343.8,308.2 C1344.2,308.4 1345.8,309.1 1346.1,309.7 C1346.4,310.3 1346.1,311.5 1345.7,312.0 C1345.4,312.5 1344.1,312.6 1343.8,312.7"/>
<path d="M1349.6,315.8 C1349.9,316.1 1351.5,316.7 1351.9,317.3 C1352.2,318.0 1351.9,319.1 1351.5,319.6 C1351.1,320.1 1349.9,320.3 1349.6,320.4"/>
<path d="M1350.5,350.2 C1350.9,350.5 1352.5,351.1 1352.8,351.7 C1353.1,352.4 1352.8,353.5 1352.4,354.0 C1352.0,354.5 1350.8,354.7 1350.5,354.8"/>
<path d="M1325.7,262.3 C1326.1,262.6 1327.6,263.2 1328.0,263.8 C1328.3,264.5 1328.0,265.6 1327.6,266.1 C1327.2,266.6 1326.0,266.8 1325.7,266.9"/>
<path d="M1327.6,288.1 C1328.0,288.4 1329.6,289.0 1329.9,289.6 C1330.2,290.3 1329.9,291.4 1329.5,291.9 C1329.1,292.4 1327.9,292.6 1327.6,292.7"/>
<path d="M1341.9,318.7 C1342.3,318.9 1343.9,319.6 1344.2,320.2 C1344.5,320.8 1344.2,322.0 1343.8,322.5 C1343.4,323.0 1342.2,323.1 1341.9,323.3"/>
<path d="M871.1,462.2 L912.2,451.1" stroke-dasharray="9,5"/>
<path d="M927.5,455.5 L946.6,450.7 L951.3,455.5 L957.1,467.9 L960.9,473.3 L968.5,470.8 L970.5,467.9 L967.6,452.6 L965.7,443.1 L971.4,436.4"/>
<path d="M928.4,458.7 L947.5,454.5 L952.3,459.3 L957.7,470.8"/>
<path d="M959.9,456.1 C960.4,456.4 962.7,457.5 962.8,458.3 C962.9,459.2 960.7,460.7 960.3,461.2"/>
<path d="M981.0,437.3 L989.6,469.8 L1070.0,456.1"/>
<path d="M991.5,462.2 L1028.7,450.7 L1047.8,444.0"/>
<path d="M997.2,455.5 C997.7,454.4 998.5,450.2 1000.1,448.8 C1001.7,447.4 1005.0,446.8 1006.8,447.3 C1008.5,447.7 1010.3,449.8 1010.6,451.7 C1010.9,453.5 1009.0,457.2 1008.7,458.3"/>
<path d="M1028.7,464.1 L1053.6,457.4"/>
<path d="M1028.7,460.3 L1030.6,466.9 L1054.5,460.3"/>
<path d="M1036.4,408.7 L1052.6,459.3"/>
<path d="M1047.8,431.6 L1059.3,456.4"/>
<path d="M975.2,380.0 L982.9,429.7 L990.5,469.8"/>
<path d="M1354.3,366.0 L1354.3,411.0"/><defs>
<g id="ss">
<circle cx="0" cy="0" r="6.2" stroke-width="2"/>
<path d="M1,-7.5 A8.2,8.8 0 1 0 0,8.5" stroke-width="2.2"/>
<path d="M-3,-5 Q-6,0 -3,5 M-6,0 H-1" stroke-width="1.6"/>
<path d="M-7,-4.5 L-22,-1.5 Q-25,-1 -24.5,2 L-24,4.5 Q-23.5,7 -20,6.5 L-5,4.5 Z" stroke-width="2"/>
<path d="M-20,-1 L-19,6 M-16,-2 L-15,5.5 M-12,-3 L-11,5 M-8.5,-3.5 L-7.5,4.5" stroke-width="1.4"/>
</g>
<g id="hs">
<path d="M-4,-7.5 L4,-7.5 L7.5,-3 L7.5,3.5 L3.5,7.5 L-3.5,7.5 L-7.5,3 L-7.5,-3.5 Z" stroke-width="2.2"/>
<path d="M-2,-5 L1,-1 L1,5 M3.5,-4 L3.5,4 M-4.5,-2 L-4.5,3" stroke-width="1.5"/>
<path d="M-7,-3 L-15,-1 L-15.5,6 L-7,5" stroke-width="2.2"/>
<path d="M-12.5,-1 V5.5 M-10,-1.5 V5" stroke-width="1.4"/>
</g>
</defs>
<use href="#ss" transform="translate(903.5,275.5) rotate(-4)"/>
<use href="#ss" transform="translate(1403,196.2) rotate(-4)"/>
<use href="#hs" transform="translate(1467.5,301.5) rotate(0)"/>
<use href="#hs" transform="translate(850.5,466.5) rotate(-17) scale(-1,1)"/>
<rect x="-8" y="-3.2" width="16" height="6.4" rx="3.2" transform="translate(1250.5,282) rotate(-17)" stroke-width="1.8"/>
<rect x="-8" y="-3.2" width="16" height="6.4" rx="3.2" transform="translate(1058.5,332) rotate(-17)" stroke-width="1.8"/>
<path d="M1072.7,323.6 L1113.5,312.1" stroke-width="3"/>
<path d="M898,226 V266 M1397,149 V189 M1467.4,310 V350 M861,469 V514" stroke-width="1.8"/>

</g>
<g id="aux" fill="none" stroke="#000" stroke-width="1.9" stroke-linecap="round" stroke-linejoin="round">
<path d="M184.3,713.0 L225.2,702.6 L253.6,709.2"/>
<path d="M184.3,713.0 L225.2,722.5 L230.1,715.5 L262.4,709.2"/>
<path d="M184.3,713.0 L185.4,724.5 L197.4,787.0 L226.3,792.7 L240.5,795.7"/>
<path d="M188.1,736.5 L213.2,739.8"/>
<path d="M225.2,722.5 L232.3,754.5 L240.5,795.7"/>
<path d="M218.7,752.9 L227.4,792.4"/>
<path d="M213.2,737.0 L229.6,737.8 L232.9,752.0 L215.6,753.1 L213.2,737.0"/>
<path d="M222.0,739.8 L224.1,744.1 L219.8,745.5"/>
<path d="M223.1,731.0 L228.0,733.4"/>
<path d="M227.6,749.8 L232.0,750.9"/>
<path d="M233.1,784.5 L236.7,787.8"/>
<path d="M230.1,715.7 C235.5,714.6 254.3,710.7 262.4,709.0 C270.5,707.2 274.2,705.5 278.7,705.4 C283.3,705.2 287.3,706.7 289.7,708.1 C292.1,709.5 290.2,700.1 293.2,713.6 C296.1,727.0 305.2,775.3 307.1,788.9 C309.1,802.6 312.8,792.3 305.0,795.5 C297.1,798.7 269.8,806.3 260.2,808.0 C250.5,809.8 250.0,807.2 247.1,805.8 C244.2,804.5 245.8,814.3 242.9,800.1 C240.0,785.8 231.7,734.4 229.6,720.3 C227.5,706.3 230.1,716.5 230.1,715.7"/>
<path d="M239.6,723.6 C240.5,723.1 237.8,722.8 244.9,720.7 C252.0,718.5 275.8,712.2 282.0,710.5"/>
<path d="M239.6,723.6 L255.6,803.3"/>
<path d="M290.8,710.3 C291.1,710.9 290.7,701.2 292.9,714.1 C295.2,727.1 302.2,775.7 304.1,788.0"/>
<path d="M248.4,740.9 C255.4,738.9 283.3,730.4 290.8,728.9 C298.2,727.3 291.2,721.5 293.2,731.6 C295.2,741.6 301.5,779.0 302.8,789.1 C304.0,799.3 307.3,790.2 300.6,792.4 C293.9,794.7 269.4,801.3 262.4,802.6 C255.3,803.8 260.5,809.9 258.2,799.8 C255.9,789.7 250.0,751.6 248.4,742.0"/>
<path d="M250.4,720.3 L252.8,736.7"/>
<path d="M282.2,710.5 L284.2,727.8"/>
<path d="M251.4,735.6 L284.2,726.7" stroke-width="2.4"/>
<path d="M256.0,793.3 C256.0,787.2 255.3,764.5 256.0,756.7 C256.8,748.9 258.2,749.6 260.4,746.5 C262.6,743.5 266.4,740.8 269.1,738.5 C271.9,736.1 275.1,733.0 276.8,732.3 C278.4,731.7 276.8,733.3 279.0,734.5 C281.1,735.8 286.8,737.1 289.7,740.0 C292.6,742.9 294.2,743.8 296.4,752.0 C298.7,760.2 301.9,782.9 303.0,789.1"/>
<path d="M275.5,804.2 L275.5,815.0"/>
<text class="s" font-size="16.5" transform="translate(274.5,760) rotate(-13) scale(0.82,1.1)" text-anchor="middle" stroke="none" fill="#000">AUX</text>
<text class="s" font-size="16.5" transform="translate(278,781.5) rotate(-13) scale(0.82,1.1)" text-anchor="middle" stroke="none" fill="#000">USB</text>
<path d="M275.2,803.7 V849.8" stroke-width="1.8"/>
</g>
<g id="module" fill="none" stroke="#000" stroke-width="1.9" stroke-linecap="round" stroke-linejoin="round">
<path d="M621.6,780.1 L621.6,860.0"/>
<path d="M621.6,780.1 L726.5,789.6 L757.8,780.1"/>
<path d="M726.5,789.6 L726.5,860.0"/>
<path d="M757.8,780.1 L757.8,860.0"/>
<path d="M746.2,783.7 L746.2,860.0"/>
<path d="M735.2,778.9 L757.8,780.1"/>
<path d="M623.1,779.8 C630.1,777.7 653.9,770.6 665.3,767.3 C676.7,764.0 685.9,762.3 691.5,760.0 C697.2,757.7 697.4,756.3 699.1,753.6 C700.8,750.9 701.3,749.0 701.7,743.7 C702.2,738.4 701.0,726.1 701.7,721.8 C702.5,717.6 704.7,718.6 706.1,718.2 C707.6,717.8 705.4,719.5 710.5,719.2 C715.6,719.0 731.6,716.6 736.7,716.7 C741.8,716.9 736.9,715.5 741.1,720.1 C745.2,724.7 758.1,740.4 761.4,744.4"/>
<path d="M650.8,783.3 C654.9,781.6 666.8,776.3 675.5,773.1 C684.3,769.9 697.4,767.0 703.2,764.1 C709.0,761.2 708.9,759.0 710.5,755.6 C712.1,752.2 712.3,749.1 712.7,743.7 C713.0,738.3 712.7,726.7 712.7,723.3"/>
<path d="M733.8,784.5 L734.5,775.7 L746.9,764.1 L752.0,758.2 L751.3,751.3 L754.5,748.3 L758.8,752.7 L760.3,759.7 L765.8,759.0"/>
<path d="M711.9,760.0 L745.4,758.5"/>
<path d="M738.1,740.0 C737.7,738.6 736.9,732.9 735.2,731.3 C733.5,729.7 729.9,729.5 728.0,730.6 C726.0,731.7 723.3,735.3 723.6,737.9 C723.8,740.4 727.2,744.9 729.4,745.9 C731.6,746.8 735.5,744.1 736.7,743.7"/>
<path d="M733.8,739.3 L742.5,742.2"/>
<path d="M765.8,753.2 L773.1,752.4 L773.1,759.7 L766.5,760.4 L765.8,753.2"/>
<path d="M767.6,755.0 L771.4,754.6 L771.4,758.0 L767.9,758.2 L767.6,755.0"/>
<path d="M749.8,743.7 L760.0,746.3"/>
<path d="M765.8,748.1 L774.6,750.2"/>
<path d="M658.1,781.5 C657.9,780.0 658.5,777.1 660.2,775.7 C661.9,774.4 665.6,773.4 668.2,773.5 C670.9,773.7 674.7,775.1 676.3,776.5 C677.8,777.8 678.6,780.0 677.7,781.5 C676.9,783.1 674.0,785.3 671.2,785.9 C668.4,786.5 663.2,785.9 661.0,785.2 C658.8,784.5 658.2,783.1 658.1,781.5 Z"/>
<path d="M661.0,772.8 C661.6,771.6 663.4,770.3 665.3,769.9 C667.3,769.5 671.2,769.7 672.6,770.6 C674.1,771.6 674.8,774.4 674.1,775.7 C673.3,777.1 670.3,778.4 668.2,778.6 C666.2,778.9 662.9,778.2 661.7,777.2 C660.5,776.2 660.4,774.0 661.0,772.8 Z"/>
<path d="M709.0,782.3 C709.3,780.5 710.0,777.1 711.9,775.7 C713.9,774.4 717.9,773.8 720.7,774.3 C723.5,774.8 727.5,776.7 728.7,778.6 C729.9,780.6 729.5,784.3 728.0,785.9 C726.4,787.5 722.1,788.0 719.2,788.1 C716.3,788.2 712.2,787.6 710.5,786.6 C708.8,785.7 708.8,784.1 709.0,782.3 Z"/>
<path d="M703.9,771.4 C704.2,770.1 708.7,768.0 711.9,767.3 C715.2,766.6 720.8,766.6 723.6,767.3 C726.4,768.0 728.7,770.1 728.7,771.4 C728.7,772.6 726.6,774.4 723.6,775.0 C720.6,775.6 713.8,775.6 710.5,775.0 C707.2,774.4 703.7,772.6 703.9,771.4 Z"/>
<path d="M652.2,781.5 C651.0,781.2 645.9,780.6 644.9,779.4 C644.0,778.2 645.4,774.9 646.4,774.3 C647.4,773.7 650.0,775.5 650.8,775.7"/>
<path d="M730.9,803.7 L748.3,800.8 L748.3,820.9 L730.9,824.1 L730.9,803.7"/>
<path d="M738.1,807.0 L746.9,804.8 L746.9,819.4 L738.1,821.6 L738.1,807.0"/>
<path d="M750.5,832.8 L757.1,831.8 L757.1,847.1 L750.5,847.4"/>
<path d="M621.6,835.6 L621.6,930.3 L726.5,936.1 L757.8,927.4 L757.8,835.6"/>
<path d="M726.5,835.6 L726.5,936.1"/>
<path d="M747.6,835.6 L747.6,861.8"/>
<path d="M747.6,918.6 L747.6,931.7"/>
<path d="M733.8,865.5 L752.0,862.6 L752.0,915.7 L733.8,919.4 L733.8,865.5"/>
<path d="M733.8,890.2 L752.0,886.6"/>
<path d="M739.6,869.1 L750.5,866.9 L750.5,888.1"/>
<path d="M739.6,893.9 L750.5,891.7 L750.5,915.7"/>
<path d="M739.6,869.1 L739.6,889.5"/>
<path d="M739.6,893.9 L739.6,917.2"/>
<path d="M749.8,840.0 L757.1,839.3 L757.1,846.6 L749.8,847.3"/>
<path d="M747.6,850.2 L752.0,851.6 L751.3,856.7 L746.9,857.5"/>
<path d="M665.3,933.2 C665.8,934.0 666.8,937.1 668.2,938.3 C669.7,939.5 672.1,940.6 674.1,940.2 C676.0,939.8 678.9,936.8 679.9,936.1"/>
<path d="M711.9,937.9 C712.3,938.5 712.7,941.1 714.1,941.9 C715.6,942.7 718.7,943.0 720.7,942.7 C722.6,942.4 724.9,940.6 725.8,940.2"/>
<path d="M621.6,918.6 L623.8,918.6 L623.8,928.8" stroke-width="2.5"/>
<path d="M690.8,935.4 C690.8,938.4 690.0,949.1 690.8,953.6 C691.7,958.1 694.3,960.4 695.9,962.3 C697.5,964.3 697.1,964.8 700.3,965.2 C703.4,965.7 712.2,965.9 714.8,965.2 C717.5,964.6 716.5,962.1 716.3,961.2 C716.1,960.2 713.9,963.6 713.4,959.7 C712.9,955.8 713.4,941.3 713.4,937.6"/>
<path d="M696.6,936.1 C696.6,939.3 696.0,950.9 696.6,955.0 C697.3,959.2 697.7,959.9 700.3,960.9 C702.8,961.8 710.0,960.9 711.9,960.9"/>
<path d="M707.6,945.6 C706.8,945.5 704.5,944.2 703.2,944.8 C701.9,945.5 699.8,947.6 699.6,949.2 C699.3,950.8 700.5,953.5 701.7,954.3 C703.0,955.2 706.0,954.3 706.8,954.3"/>
<path d="M706.1,950.7 L714.1,950.7"/>
<path d="M775.0,750.5 L852.4,771.9" stroke-dasharray="7,5"/>
<path d="M721.5,952.2 L826.1,971.6" stroke-dasharray="7,5"/>
<path d="M727.0,670.2 L727.0,716.5"/>
<path d="M893.9,722.3 L893.9,769.0"/>
<path d="M869.1,919.6 L869.1,966.0"/>
<defs><g id="scr">
<circle cx="0" cy="0" r="10.4"/>
<path d="M1.8,-11.9 A12.2,13.2 0 1 0 1.8,8.3"/>
<path d="M-0.8,-8.7 A8.5,8.5 0 1 0 -0.8,6.1 M-11.5,-0.8 H-4.5"/>
<path d="M-18.2,-9.5 L-34,-13.2 Q-38,-13 -37,-9 L-36.3,-6 Q-36,-4 -33,-4 L-18.6,0.5"/>
<path d="M-31.5,-12.6 Q-33.5,-8.5 -31.5,-4.5 M-27,-11.6 Q-29,-7.5 -27,-3.4 M-22.5,-10.6 Q-24.5,-6.5 -22.5,-2.3"/>
</g></defs>
<use href="#scr" transform="translate(897.7,783.6)"/>
<use href="#scr" transform="translate(872.5,979.5)"/>
</g>
</svg></body></html>
